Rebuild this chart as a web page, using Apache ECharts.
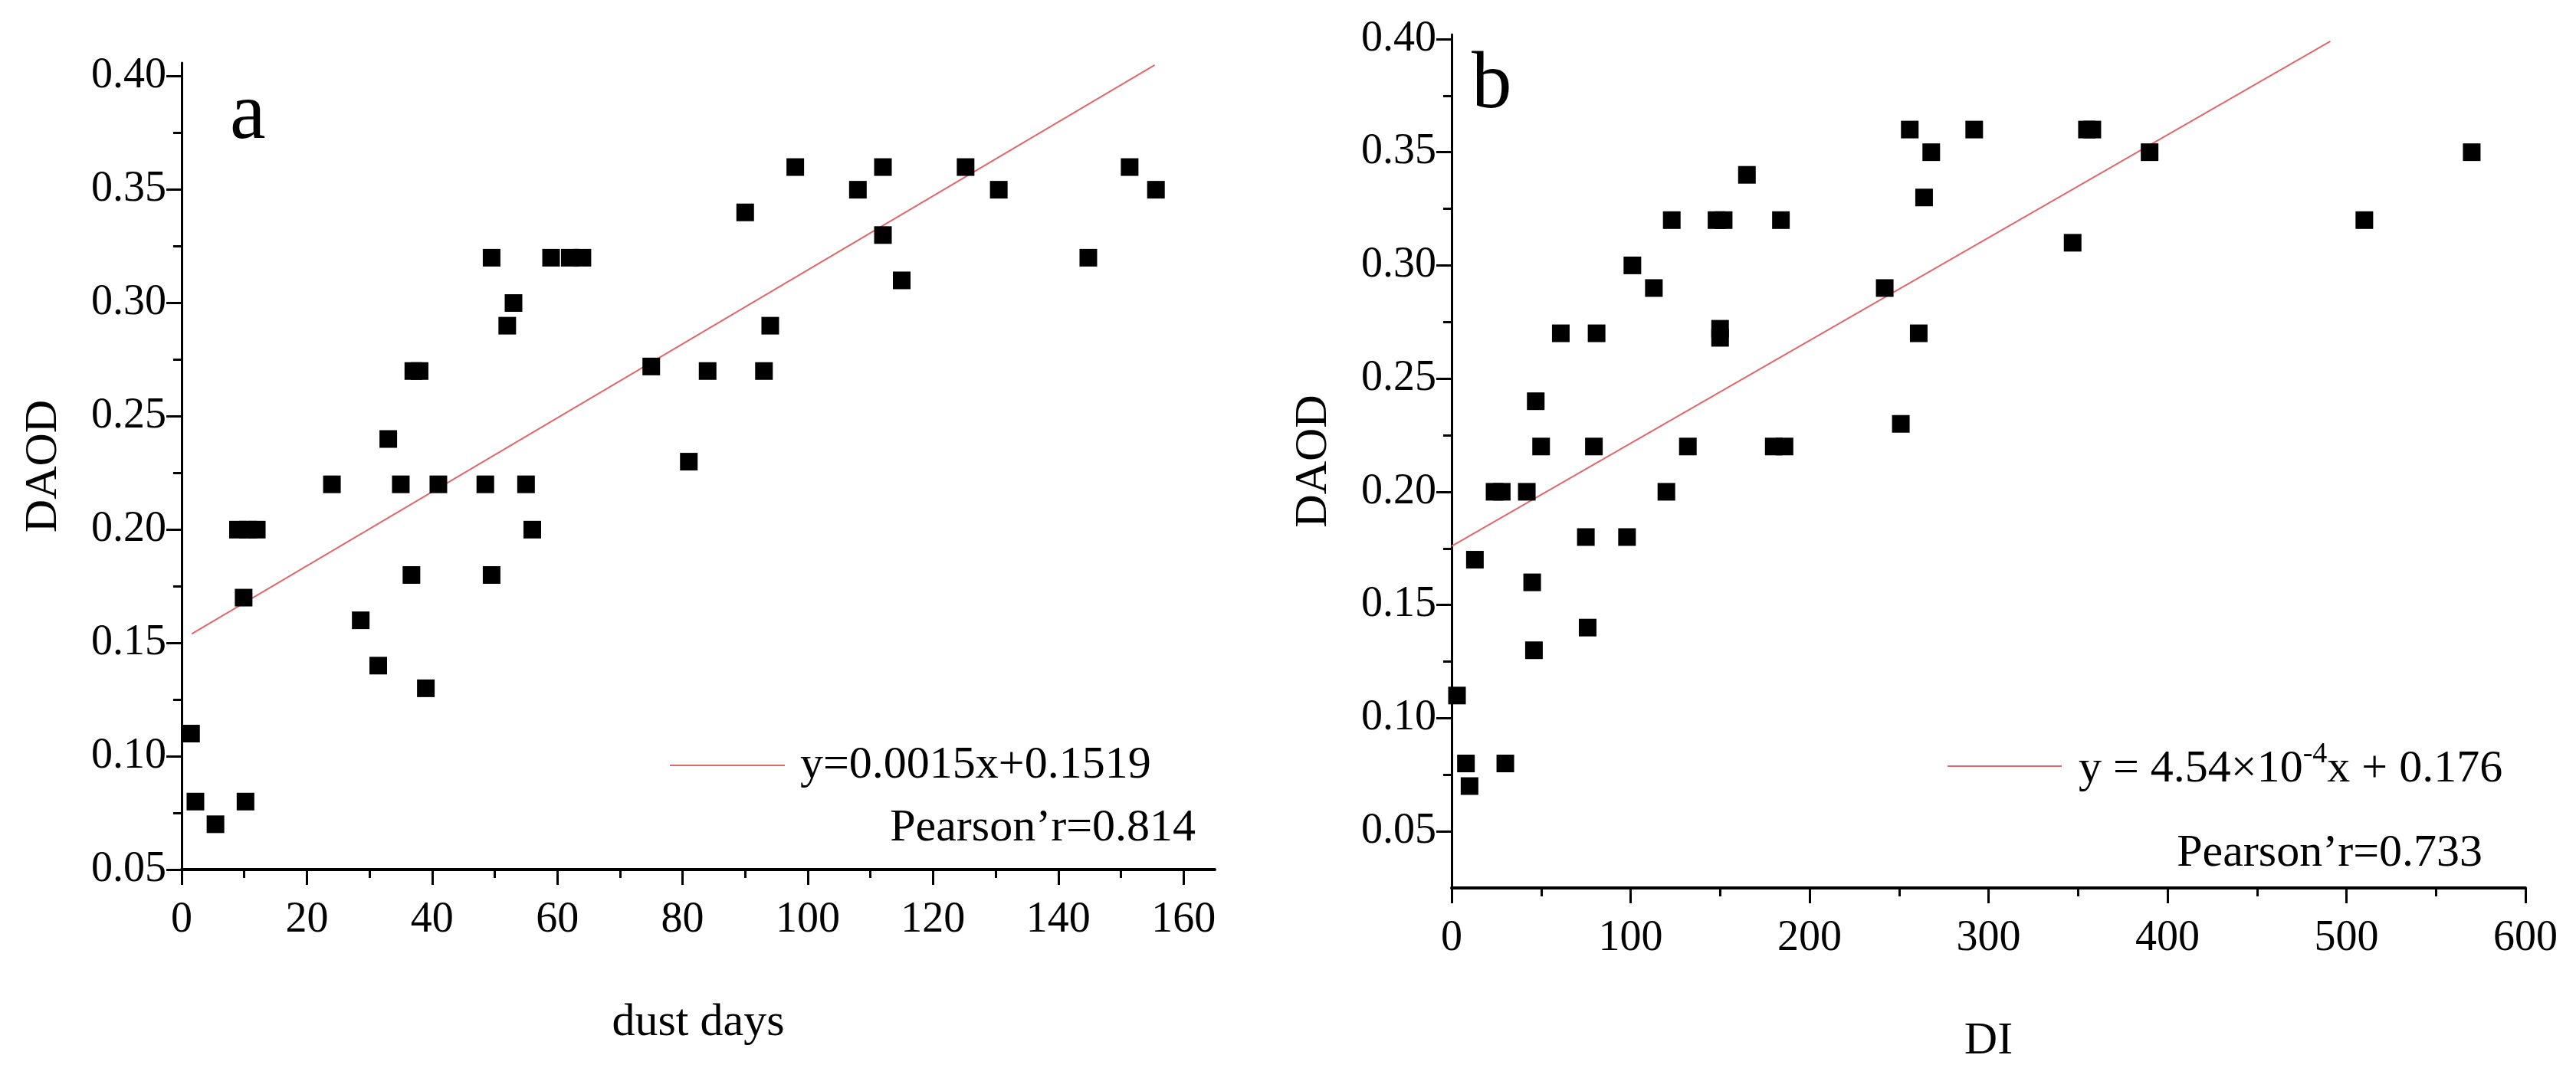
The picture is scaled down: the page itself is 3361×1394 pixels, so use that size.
<!DOCTYPE html>
<html><head><meta charset="utf-8">
<script src="https://cdn.jsdelivr.net/npm/echarts@6/dist/echarts.min.js"></script>
<style>html,body{margin:0;padding:0;background:#fff}#c{width:3361px;height:1394px}</style>
</head><body><div id="c"></div>
<script>
var dustDays = [1.5,2.2,5.4,9,9.9,10.2,10.6,12,24,28.6,31.4,33,35,36.7,37,38,39,41,48.5,49.5,49.5,52,53,55,56,59,62,64,75,81,84,90,93,94,98,108,112,112,115,125.2,130.5,144.8,151.4,155.6];
var daodA   = [0.11,0.08,0.07,0.20,0.17,0.08,0.20,0.20,0.22,0.16,0.14,0.24,0.22,0.18,0.27,0.27,0.13,0.22,0.22,0.32,0.18,0.29,0.30,0.22,0.20,0.32,0.32,0.32,0.272,0.23,0.27,0.34,0.27,0.29,0.36,0.35,0.36,0.33,0.31,0.36,0.35,0.32,0.36,0.35];
var diVals  = [3,8,10,13,24,28,30,42,45,46,47,50,61,75,76,79.5,81,98,101,113,120,123,132,148,150,150,152,165,180,184,186,242,251,256,261,264,268,292,347,355,358,390,510,570];
var daodB   = [0.11,0.08,0.07,0.17,0.20,0.20,0.08,0.20,0.16,0.13,0.24,0.22,0.27,0.18,0.14,0.22,0.27,0.18,0.30,0.29,0.20,0.32,0.22,0.32,0.272,0.268,0.32,0.34,0.22,0.32,0.22,0.29,0.23,0.36,0.27,0.33,0.35,0.36,0.31,0.36,0.36,0.35,0.32,0.35];
var fitAx = [1.6,155.4], fitAy = [0.154,0.405];
var fitBx = [0,491],     fitBy = [0.176,0.399];
var yTickLabels = [0.05,0.10,0.15,0.20,0.25,0.30,0.35,0.40];
var yMinorTicks = [0.075,0.125,0.175,0.225,0.275,0.325,0.375];
var xTicksA = [0,20,40,60,80,100,120,140,160];
var xMinorA = [10,30,50,70,90,110,130,150];
var xTicksB = [0,100,200,300,400,500,600];
var xMinorB = [50,150,250,350,450,550];

var F = "'Liberation Serif', 'Times New Roman', serif";
function zip(a,b){return a.map(function(v,i){return [v,b[i]];});}
function mainY(grid,min,max,gap){
  return {type:'value',gridIndex:grid,position:'left',min:min,max:max,name:'DAOD',nameLocation:'middle',nameGap:gap,
    nameTextStyle:{fontFamily:F,fontSize:60,color:'#000'},
    axisLine:{show:true,lineStyle:{color:'#000',width:3}},
    axisTick:{show:true,inside:false,length:20,lineStyle:{color:'#000',width:3},customValues:yTickLabels},
    axisLabel:{customValues:yTickLabels,fontFamily:F,fontSize:56,color:'#000',margin:20,formatter:function(v){return v.toFixed(2);}},
    splitLine:{show:false}};
}
function minorY(grid,min,max){
  return {type:'value',gridIndex:grid,position:'left',min:min,max:max,axisLine:{show:false},axisLabel:{show:false},splitLine:{show:false},
    axisTick:{show:true,length:11,lineStyle:{color:'#000',width:3},customValues:yMinorTicks}};
}
function mainX(grid,max,ticks,name){
  return {type:'value',gridIndex:grid,position:'bottom',min:0,max:max,name:name,nameLocation:'middle',nameGap:170,
    nameTextStyle:{fontFamily:F,fontSize:60,color:'#000'},
    axisLine:{show:true,onZero:false,lineStyle:{color:'#000',width:4}},
    axisTick:{show:true,length:20,lineStyle:{color:'#000',width:3},customValues:ticks},
    axisLabel:{customValues:ticks,fontFamily:F,fontSize:56,color:'#000',margin:38},
    splitLine:{show:false}};
}
function minorX(grid,max,ticks){
  return {type:'value',gridIndex:grid,position:'bottom',min:0,max:max,axisLine:{show:false,onZero:false},axisLabel:{show:false},splitLine:{show:false},
    axisTick:{show:true,length:11,lineStyle:{color:'#000',width:3},customValues:ticks}};
}
var red = '#e2676a';
var chart = echarts.init(document.getElementById('c'));
chart.setOption({
  backgroundColor:'#fff',
  animation:false,
  grid:[{left:237,top:82,width:1348,height:1053},{left:1894,top:45,width:1401,height:1129}],
  xAxis:[mainX(0,165,xTicksA,'dust days'),mainX(1,600,xTicksB,'DI'),minorX(0,165,xMinorA),minorX(1,600,xMinorB)],
  yAxis:[mainY(0,0.05,0.406,150),mainY(1,0.025,0.402,150),minorY(0,0.05,0.406),minorY(1,0.025,0.402)],
  series:[
    {type:'scatter',xAxisIndex:0,yAxisIndex:0,symbol:'rect',symbolSize:23,itemStyle:{color:'#000',opacity:1},data:zip(dustDays,daodA),z:3},
    {type:'line',xAxisIndex:0,yAxisIndex:0,showSymbol:false,lineStyle:{color:red,width:2},data:zip(fitAx,fitAy),z:2},
    {type:'scatter',xAxisIndex:1,yAxisIndex:1,symbol:'rect',symbolSize:23,itemStyle:{color:'#000',opacity:1},data:zip(diVals,daodB),z:3},
    {type:'line',xAxisIndex:1,yAxisIndex:1,showSymbol:false,lineStyle:{color:red,width:2},data:zip(fitBx,fitBy),z:2}
  ],
  graphic:[
    {type:'text',left:300,top:100,style:{text:'a',fontFamily:F,fontSize:105,fill:'#000'}},
    {type:'text',left:1920,top:60,style:{text:'b',fontFamily:F,fontSize:105,fill:'#000'}},
    {type:'line',shape:{x1:874,y1:999,x2:1024,y2:999},style:{stroke:red,lineWidth:2}},
    {type:'text',x:1044,y:999,style:{text:'y=0.0015x+0.1519',fontFamily:F,fontSize:60,fill:'#000',verticalAlign:'middle'}},
    {type:'text',x:1560,y:1081,style:{text:'Pearson\u2019r=0.814',fontFamily:F,fontSize:60,fill:'#000',align:'right',verticalAlign:'middle'}},
    {type:'line',shape:{x1:2541,y1:1000,x2:2690,y2:1000},style:{stroke:red,lineWidth:2}},
    {type:'text',x:2712,y:1000,style:{text:'{n|y = 4.54×10}{s|-4}{n|x + 0.176}',verticalAlign:'middle',
      rich:{n:{fontFamily:F,fontSize:60,fill:'#000',verticalAlign:'bottom'},s:{fontFamily:F,fontSize:38,fill:'#000',verticalAlign:'top',padding:[0,0,30,0]}}}},
    {type:'text',x:3239,y:1114,style:{text:'Pearson\u2019r=0.733',fontFamily:F,fontSize:60,fill:'#000',align:'right',verticalAlign:'middle'}}
  ]
});
</script></body></html>
